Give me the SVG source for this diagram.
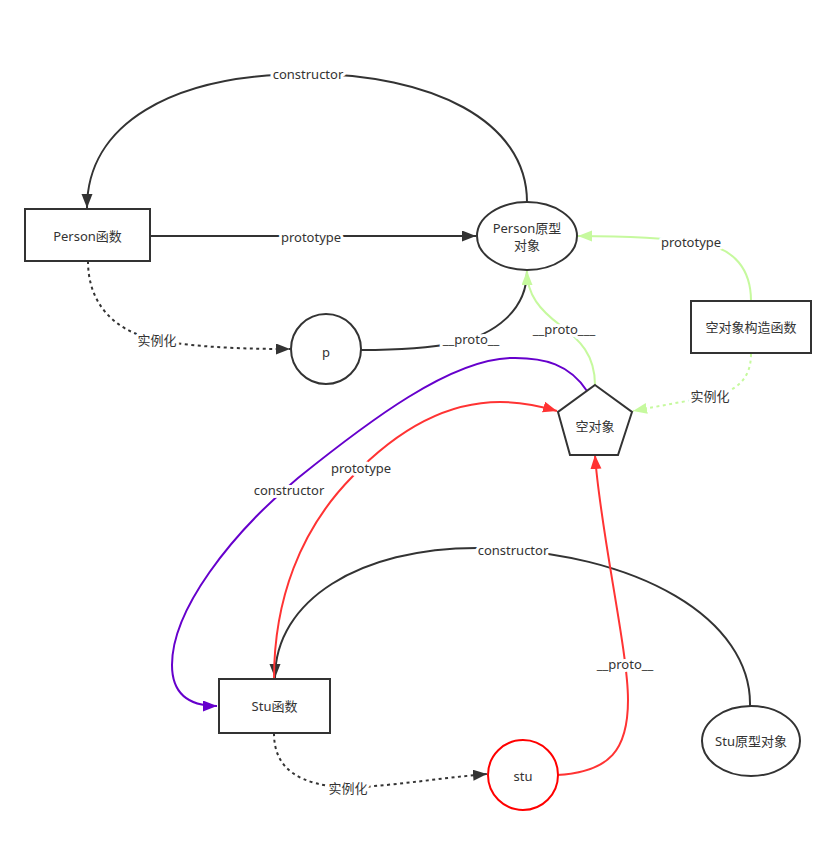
<svg xmlns="http://www.w3.org/2000/svg" width="835" height="845" viewBox="0 0 835 845">
<style>
text{font-family:"Noto Sans","Noto Sans CJK SC",sans-serif;font-size:13px;fill:#333;text-anchor:middle;dominant-baseline:central}
.lbl{paint-order:stroke;stroke:#fff;stroke-width:6px;stroke-linejoin:round}
.node{fill:#fff;stroke:#333;stroke-width:2}
.ln{fill:none;stroke-width:2}
.dk{stroke:#333}
.gr{stroke:#c6f99e}
.rd{stroke:#ff3333}
.pu{stroke:#6600cc}
.dot{stroke-dasharray:3 3.5}
</style>
<defs>
<marker id="aDk" markerUnits="userSpaceOnUse" markerWidth="16" markerHeight="12" refX="14" refY="5.5" orient="auto"><path d="M0,0 L14,5.5 L0,11 z" fill="#333"/></marker>
<marker id="aGr" markerUnits="userSpaceOnUse" markerWidth="16" markerHeight="12" refX="14" refY="5.5" orient="auto"><path d="M0,0 L14,5.5 L0,11 z" fill="#c6f99e"/></marker>
<marker id="aRd" markerUnits="userSpaceOnUse" markerWidth="16" markerHeight="12" refX="14" refY="5.5" orient="auto"><path d="M0,0 L14,5.5 L0,11 z" fill="#ff3333"/></marker>
<marker id="aPu" markerUnits="userSpaceOnUse" markerWidth="16" markerHeight="12" refX="14" refY="5.5" orient="auto"><path d="M0,0 L14,5.5 L0,11 z" fill="#6600cc"/></marker>
</defs>
<rect width="835" height="845" fill="#fff"/>
<g id="connectors">
<path class="ln dk" d="M527,202 C527,120 430,74 308,74 C170,74 87,125 87,208" marker-end="url(#aDk)"/>
<path class="ln dk" d="M150,236 L476,236" marker-end="url(#aDk)"/>
<path class="ln dk dot" d="M88,261 C88,300 110,330 156,340 C200,348 250,349 290,349" marker-end="url(#aDk)"/>
<path class="ln dk" d="M361,350 C400,350 430,348 455,343 C495,335 527,310 527,271"/>
<path class="ln gr" d="M595,385 C595,355 580,340 560,325 C540,310 527,295 527,271" marker-end="url(#aGr)"/>
<path class="ln gr" d="M751,301 C751,270 735,248 700,243 C660,237 620,236 578,236" marker-end="url(#aGr)"/>
<path class="ln gr dot" d="M751,354 C751,380 735,392 710,397 C680,402 660,406 633,411" marker-end="url(#aGr)"/>
<path class="ln pu" d="M587,391 C570,365 545,357 510,358 C450,360 370,420 298,478 C230,535 172,610 172,665 C172,690 185,706 217,706" marker-end="url(#aPu)"/>
<path class="ln dk" d="M750,706 C752,620 640,551 477,548 C360,548 275,600 275,678" marker-end="url(#aDk)"/>
<path class="ln rd" d="M274,679 C274,600 300,530 352,477 C395,432 445,402 500,402 C520,402 540,406 557,411" marker-end="url(#aRd)"/>
<path class="ln rd" d="M557,775 C610,772 628,750 628,700 C628,650 600,530 595,455" marker-end="url(#aRd)"/>
<path class="ln dk dot" d="M274,733 C274,770 300,785 348,788 C400,785 440,778 487,774" marker-end="url(#aDk)"/>
<text class="lbl" x="308" y="74">constructor</text>
<text class="lbl" x="311" y="237">prototype</text>
<text class="lbl" x="157" y="340">实例化</text>
<text class="lbl" x="471" y="339">__proto__</text>
<text class="lbl" x="564" y="329">__proto___</text>
<text class="lbl" x="691" y="242">prototype</text>
<text class="lbl" x="710" y="396">实例化</text>
<text class="lbl" x="289" y="490">constructor</text>
<text class="lbl" x="361" y="468">prototype</text>
<text class="lbl" x="513" y="550">constructor</text>
<text class="lbl" x="625" y="664">__proto__</text>
<text class="lbl" x="348" y="788">实例化</text>
</g>
<g id="person-fn"><rect class="node" x="25" y="209" width="125" height="52"/><text x="87.5" y="236">Person函数</text></g>
<g id="person-proto"><ellipse class="node" cx="527" cy="236" rx="50" ry="34"/><text x="527" y="228">Person原型</text><text x="527" y="245">对象</text></g>
<g id="p"><circle class="node" cx="326" cy="349" r="35"/><text x="326" y="352">p</text></g>
<g id="empty-ctor"><rect class="node" x="691" y="301" width="120" height="52"/><text x="751" y="327">空对象构造函数</text></g>
<g id="empty-obj"><polygon class="node" points="595,385 632,412 618,455 570,455 558,412"/><text x="595" y="426">空对象</text></g>
<g id="stu-fn"><rect class="node" x="219" y="679" width="111" height="54"/><text x="274.5" y="706">Stu函数</text></g>
<g id="stu"><circle class="node" style="stroke:#ff0000" cx="523" cy="775" r="35"/><text x="523" y="776">stu</text></g>
<g id="stu-proto"><ellipse class="node" cx="751" cy="741" rx="49" ry="35"/><text x="751" y="741">Stu原型对象</text></g>
</svg>
